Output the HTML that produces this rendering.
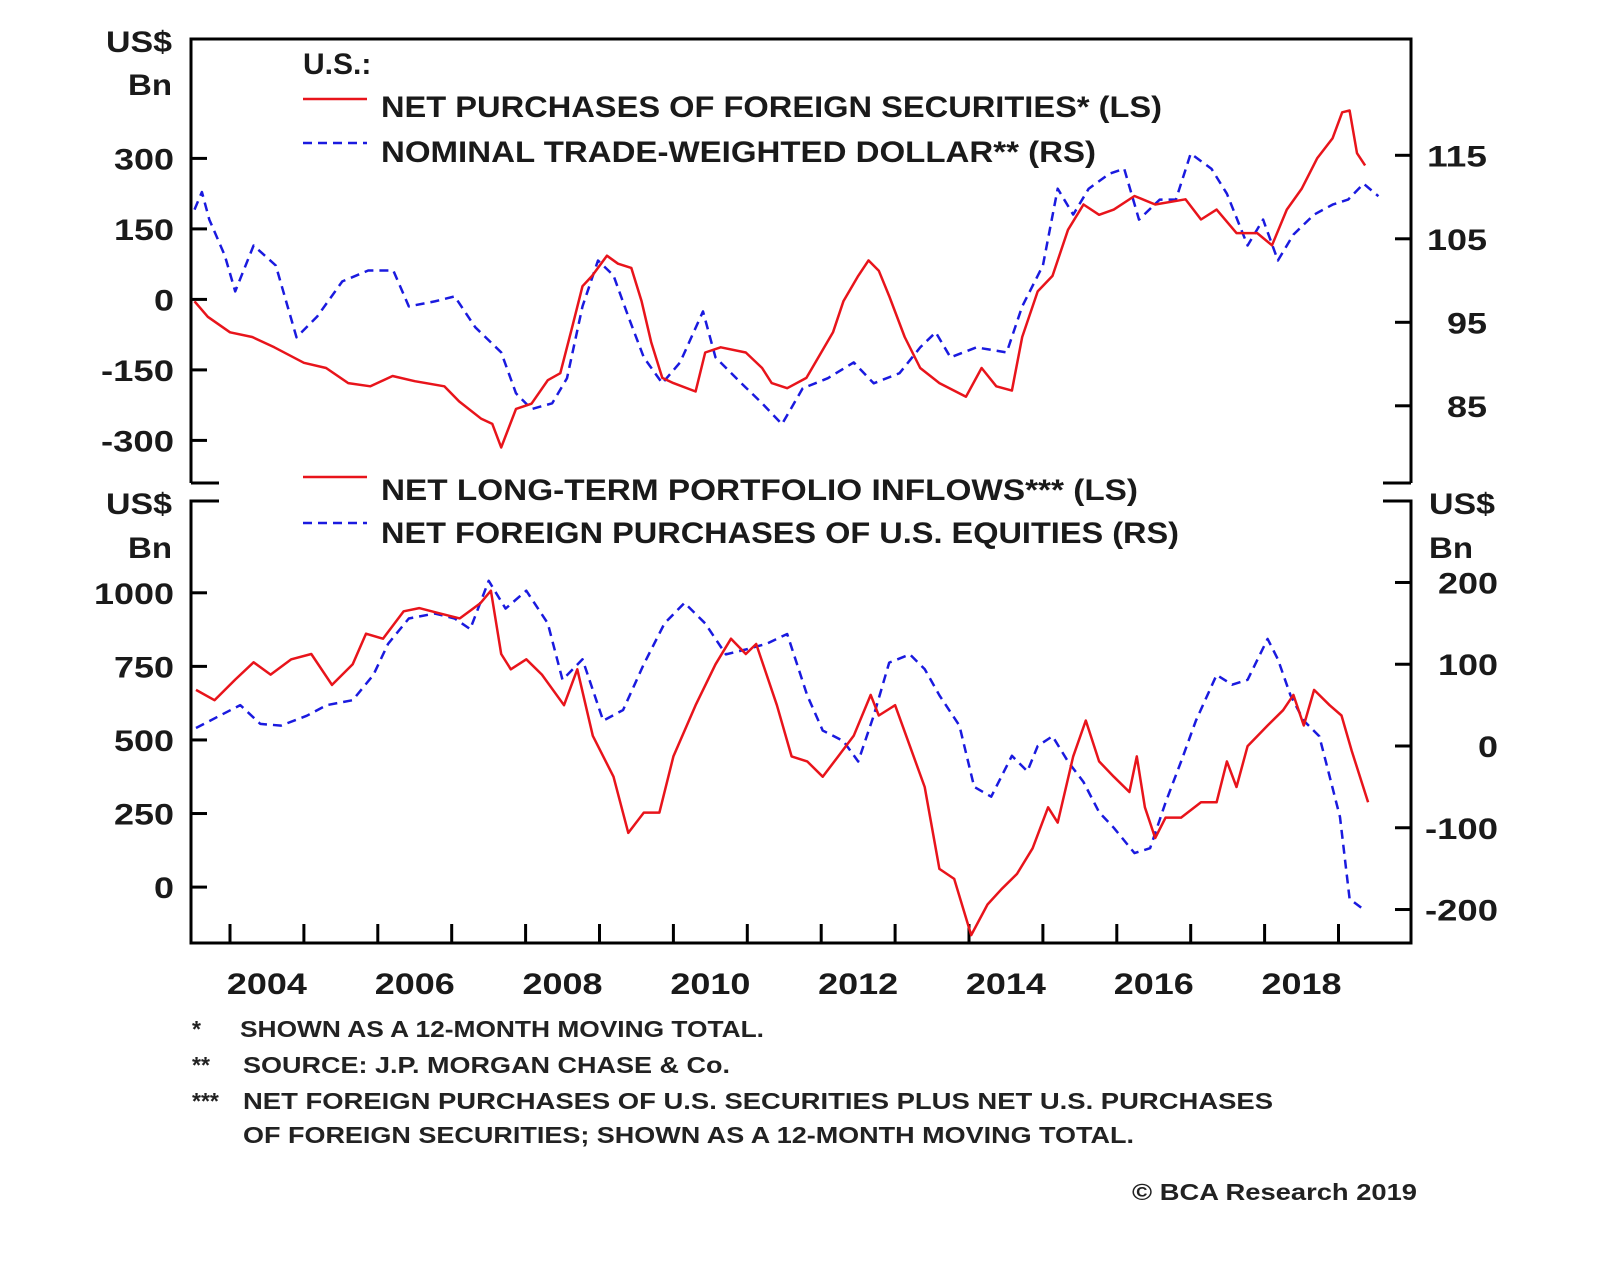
<!DOCTYPE html>
<html><head><meta charset="utf-8"><style>
html,body{margin:0;padding:0;background:#fff;}
svg{display:block;font-family:"Liberation Sans",Arial,sans-serif;}
.t{font-weight:bold;font-size:30px;fill:#1a1a1a;}
.f{font-size:23px;fill:#222;font-weight:bold;}
</style></head><body>
<svg id="chart" width="1600" height="1275" viewBox="0 0 1600 1275" xmlns="http://www.w3.org/2000/svg">
<g id="frame" stroke="#000" stroke-width="3" fill="none">
<path d="M191 483 V39 H1411 V483 M191 483 H219 M1411 483 H1383"/>
<path d="M219 501 H191 V943 H1411 V501 H1383"/>
</g>
<g id="axes"></g>
<g id="series"></g>
<g>
<text class="t" x="303" y="74">U.S.:</text>
<line x1="303" y1="99" x2="367" y2="99" stroke="#e8141b" stroke-width="2.5"/>
<text class="t" x="381" y="117" textLength="781" lengthAdjust="spacingAndGlyphs">NET PURCHASES OF FOREIGN SECURITIES* (LS)</text>
<line x1="303" y1="143" x2="367" y2="143" stroke="#1a1adf" stroke-width="2.5" stroke-dasharray="9 6"/>
<text class="t" x="381" y="162" textLength="715" lengthAdjust="spacingAndGlyphs">NOMINAL TRADE-WEIGHTED DOLLAR** (RS)</text>
</g>
<g>
<line x1="303" y1="477" x2="367" y2="477" stroke="#e8141b" stroke-width="2.5"/>
<text class="t" x="381" y="500" textLength="757" lengthAdjust="spacingAndGlyphs">NET LONG-TERM PORTFOLIO INFLOWS*** (LS)</text>
<line x1="303" y1="523" x2="367" y2="523" stroke="#1a1adf" stroke-width="2.5" stroke-dasharray="9 6"/>
<text class="t" x="381" y="543" textLength="798" lengthAdjust="spacingAndGlyphs">NET FOREIGN PURCHASES OF U.S. EQUITIES (RS)</text>
</g>
<g>
<text class="t" x="172" y="52" text-anchor="end" textLength="66" lengthAdjust="spacingAndGlyphs">US$</text>
<text class="t" x="172" y="95" text-anchor="end" textLength="44" lengthAdjust="spacingAndGlyphs">Bn</text>
<text class="t" x="172" y="514" text-anchor="end" textLength="66" lengthAdjust="spacingAndGlyphs">US$</text>
<text class="t" x="172" y="558" text-anchor="end" textLength="44" lengthAdjust="spacingAndGlyphs">Bn</text>
<text class="t" x="1429" y="514" textLength="66" lengthAdjust="spacingAndGlyphs">US$</text>
<text class="t" x="1429" y="558" textLength="44" lengthAdjust="spacingAndGlyphs">Bn</text>
</g>
<g>
<text class="f" x="192" y="1037">*</text>
<text class="f" x="240" y="1037" textLength="524" lengthAdjust="spacingAndGlyphs">SHOWN AS A 12-MONTH MOVING TOTAL.</text>
<text class="f" x="192" y="1073">**</text>
<text class="f" x="243" y="1073" textLength="487" lengthAdjust="spacingAndGlyphs">SOURCE: J.P. MORGAN CHASE &amp; Co.</text>
<text class="f" x="192" y="1109">***</text>
<text class="f" x="243" y="1109" textLength="1030" lengthAdjust="spacingAndGlyphs">NET FOREIGN PURCHASES OF U.S. SECURITIES PLUS NET U.S. PURCHASES</text>
<text class="f" x="243" y="1143" textLength="891" lengthAdjust="spacingAndGlyphs">OF FOREIGN SECURITIES; SHOWN AS A 12-MONTH MOVING TOTAL.</text>
<text class="f" x="1417" y="1200" text-anchor="end" textLength="285" lengthAdjust="spacingAndGlyphs">© BCA Research 2019</text>
</g>
</svg>
<script>
// ---- data ----
const topLeftTicks = [300, 150, 0, -150, -300];
const topRightTicks = [115, 105, 95, 85];
const botLeftTicks = [1000, 750, 500, 250, 0];
const botRightTicks = [200, 100, 0, -100, -200];
const yearTicks = [2004,2005,2006,2007,2008,2009,2010,2011,2012,2013,2014,2015,2016,2017,2018,2019];
const yearLabels = [2004,2006,2008,2010,2012,2014,2016,2018];

const netPurchT = [2003.52,2003.7,2004.0,2004.3,2004.6,2005.0,2005.3,2005.6,2005.9,2006.2,2006.5,2006.9,2007.1,2007.4,2007.55,2007.67,2007.87,2008.08,2008.3,2008.47,2008.63,2008.77,2008.9,2009.1,2009.25,2009.43,2009.57,2009.7,2009.85,2010.0,2010.3,2010.43,2010.64,2010.98,2011.2,2011.33,2011.54,2011.8,2012.0,2012.16,2012.3,2012.5,2012.64,2012.78,2012.92,2013.13,2013.34,2013.6,2013.96,2014.17,2014.37,2014.58,2014.72,2014.93,2015.13,2015.34,2015.55,2015.76,2015.96,2016.24,2016.52,2016.93,2017.14,2017.35,2017.62,2017.9,2018.1,2018.3,2018.5,2018.71,2018.92,2019.05,2019.15,2019.25,2019.36];
const netPurchV = [-4,-37,-70,-80,-102,-135,-146,-178,-185,-163,-174,-185,-217,-254,-265,-315,-233,-222,-172,-157,-59,28,50,93,76,67,-4,-91,-167,-178,-196,-113,-102,-113,-146,-178,-189,-167,-113,-70,-4,50,83,61,7,-80,-146,-178,-207,-146,-185,-194,-80,17,50,148,202,180,191,220,202,213,170,191,141,141,115,191,235,300,343,398,402,311,285];

const dollarT = [2003.52,2003.62,2003.72,2003.93,2004.07,2004.32,2004.62,2004.9,2005.18,2005.52,2005.87,2006.21,2006.42,2006.77,2007.04,2007.32,2007.67,2007.87,2008.08,2008.36,2008.56,2008.77,2008.98,2009.19,2009.39,2009.6,2009.85,2010.09,2010.4,2010.57,2010.92,2011.2,2011.47,2011.75,2012.09,2012.44,2012.71,2013.06,2013.34,2013.55,2013.75,2014.1,2014.51,2014.72,2015.0,2015.2,2015.41,2015.62,2015.9,2016.1,2016.3,2016.58,2016.8,2017.0,2017.28,2017.49,2017.77,2017.98,2018.18,2018.39,2018.67,2018.92,2019.13,2019.34,2019.54];
const dollarV = [108.5,110.6,107.3,103,98.7,104.2,101.8,93.2,95.7,99.9,101.2,101.2,96.9,97.5,98.1,94.4,91.4,86.5,84.6,85.3,88.3,96.9,102.4,100.6,95.7,90.8,87.7,90.2,96.3,90.8,87.7,85.3,82.8,87.1,88.3,90.2,87.7,88.9,92,93.8,90.8,92,91.4,96.9,101.8,111,107.9,111,112.8,113.4,107.3,109.7,109.7,115.2,113.4,110.4,104.2,107.3,102.4,105.5,107.9,109.1,109.7,111.6,110.1];

const inflowT = [2003.54,2003.79,2004.07,2004.32,2004.55,2004.83,2005.1,2005.38,2005.66,2005.84,2006.07,2006.35,2006.56,2006.84,2007.11,2007.39,2007.53,2007.67,2007.8,2008.01,2008.22,2008.52,2008.7,2008.91,2009.19,2009.39,2009.6,2009.81,2010.0,2010.3,2010.57,2010.78,2010.98,2011.12,2011.4,2011.6,2011.81,2012.02,2012.23,2012.44,2012.67,2012.78,2013.0,2013.2,2013.4,2013.6,2013.8,2014.03,2014.25,2014.44,2014.65,2014.86,2015.07,2015.2,2015.41,2015.58,2015.76,2015.96,2016.17,2016.27,2016.38,2016.52,2016.66,2016.87,2017.14,2017.35,2017.49,2017.62,2017.77,2018.04,2018.25,2018.39,2018.53,2018.67,2018.88,2019.04,2019.18,2019.4];
const inflowV = [670,635,705,764,722,774,792,687,757,861,844,937,948,930,913,965,1007,792,740,774,722,618,740,514,375,184,253,253,444,618,757,844,792,826,618,444,427,375,444,514,653,583,618,479,340,62,28,-163,-59,-7,45,132,271,219,444,566,427,375,323,444,271,167,236,236,288,288,427,340,479,549,601,653,549,670,618,583,462,288];

const equityT = [2003.54,2003.86,2004.14,2004.41,2004.69,2005.04,2005.31,2005.66,2005.94,2006.14,2006.42,2006.77,2007.04,2007.25,2007.5,2007.73,2008.01,2008.3,2008.5,2008.77,2009.05,2009.32,2009.6,2009.88,2010.15,2010.43,2010.71,2010.98,2011.26,2011.54,2011.81,2012.02,2012.3,2012.5,2012.71,2012.92,2013.2,2013.4,2013.6,2013.87,2014.07,2014.3,2014.58,2014.79,2014.93,2015.13,2015.34,2015.55,2015.76,2015.96,2016.24,2016.45,2016.66,2016.87,2017.07,2017.35,2017.56,2017.77,2018.04,2018.18,2018.35,2018.53,2018.74,2018.88,2019.02,2019.15,2019.34];
const equityV = [22,37,50,27,25,37,50,56,87,125,156,162,156,143,202,168,190,150,81,106,31,44,100,150,175,150,112,118,125,137,62,19,6,-19,37,102,112,94,62,25,-50,-62,-12,-31,0,12,-19,-44,-81,-100,-131,-125,-69,-19,31,87,75,81,131,106,62,31,12,-37,-87,-187,-200];

// ---- axis functions ----
const X = t => 230 + (t - 2004) * 73.9;
const YTL = v => 299.4 - v * 0.470;
const YTR = v => 155.3 + (115 - v) * 8.35;
const YBL = v => 887.1 - v * 0.2943;
const YBR = v => 746 - v * 0.8176;

const NS = 'http://www.w3.org/2000/svg';
const axes = document.getElementById('axes');
const series = document.getElementById('series');
function mk(tag, attrs, parent) {
  const e = document.createElementNS(NS, tag);
  for (const k in attrs) e.setAttribute(k, attrs[k]);
  parent.appendChild(e);
  return e;
}
function labelLen(s) {
  let n = 0;
  for (const c of String(s)) n += (c === '-' ? 13 : 20);
  return n;
}
function tickSet(ticks, yf, side, labelX, anchor, name) {
  ticks.forEach(v => {
    const y = yf(v);
    const x1 = side === 'L' ? 191 : 1411, x2 = side === 'L' ? 207 : 1395;
    const l = mk('line', {x1: x1, y1: y, x2: x2, y2: y, stroke: '#000', 'stroke-width': 3}, axes);
    
    
    const t = mk('text', {x: labelX, y: y + 11, 'text-anchor': anchor, class: 't', textLength: labelLen(v), lengthAdjust: 'spacingAndGlyphs'}, axes);
    t.textContent = v;
    
    
  });
}
tickSet(topLeftTicks, YTL, 'L', 174, 'end', 'top-left-axis');
tickSet(topRightTicks, YTR, 'R', 1487, 'end', 'top-right-axis');
tickSet(botLeftTicks, YBL, 'L', 174, 'end', 'bottom-left-axis');
tickSet(botRightTicks, YBR, 'R', 1498, 'end', 'bottom-right-axis');

yearTicks.forEach(yr => {
  const x = X(yr);
  const l = mk('line', {x1: x, y1: 943, x2: x, y2: 924, stroke: '#000', 'stroke-width': 3}, axes);
  
  
});
yearLabels.forEach(yr => {
  const t = mk('text', {x: X(yr + 0.5) - 40, y: 994, class: 't', textLength: 80, lengthAdjust: 'spacingAndGlyphs'}, axes);
  t.textContent = yr;
  
  
});

function line(ts, vs, yf, color, dashed, name) {
  const d = ts.map((t, i) => (i ? 'L' : 'M') + X(t).toFixed(1) + ' ' + yf(vs[i]).toFixed(1)).join(' ');
  const p = mk('path', {d: d, fill: 'none', stroke: color, 'stroke-width': 2.5, 'stroke-linejoin': 'round'}, series);
  if (dashed) p.setAttribute('stroke-dasharray', '9 6');
  
  
}
line(dollarT, dollarV, YTR, '#1a1adf', true, 'dollar-line');
line(netPurchT, netPurchV, YTL, '#e8141b', false, 'net-purchases-line');
line(equityT, equityV, YBR, '#1a1adf', true, 'equities-line');
line(inflowT, inflowV, YBL, '#e8141b', false, 'inflows-line');
</script>
</body></html>
